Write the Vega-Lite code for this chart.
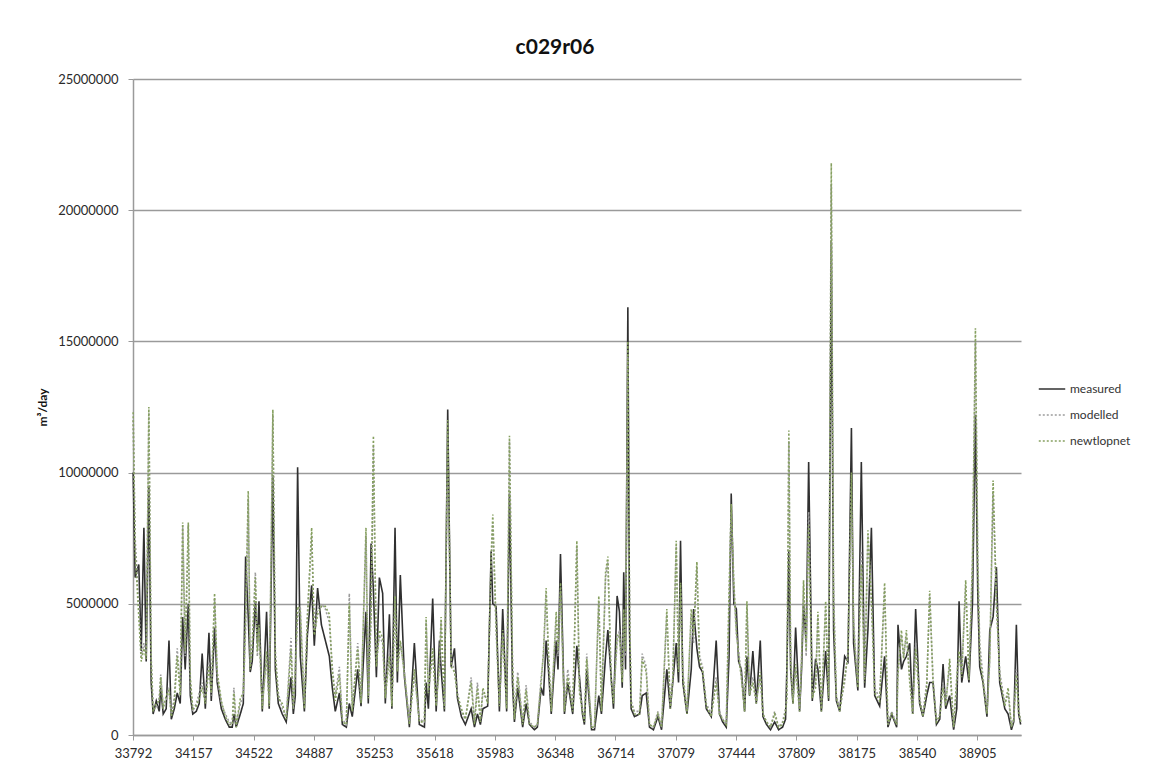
{
  "$schema": "https://vega.github.io/schema/vega-lite/v6.json",
  "width": 888,
  "height": 656,
  "autosize": {"type": "none"},
  "padding": {"left": 133, "top": 79, "right": 150, "bottom": 32},
  "background": "white",
  "title": {"text": "c029r06", "fontSize": 21, "font": "Lato", "fontWeight": "bold", "color": "#111", "anchor": "middle", "dx": -22, "offset": 15},
  "config": {"view": {"stroke": null}, "font": "Lato"},
  "data": {"values": [
    {"d":33793,"measured":10000000,"modelled":12000000,"newtlopnet":12300000},
    {"d":33805,"measured":6000000,"modelled":7500000,"newtlopnet":7000000},
    {"d":33827,"measured":6500000,"modelled":5000000,"newtlopnet":4500000},
    {"d":33842,"measured":3200000,"modelled":3000000,"newtlopnet":2800000},
    {"d":33858,"measured":7900000,"modelled":3500000,"newtlopnet":3300000},
    {"d":33872,"measured":2800000,"modelled":3000000,"newtlopnet":2900000},
    {"d":33888,"measured":9500000,"modelled":12300000,"newtlopnet":12500000},
    {"d":33902,"measured":2000000,"modelled":3000000,"newtlopnet":2800000},
    {"d":33914,"measured":800000,"modelled":1000000,"newtlopnet":900000},
    {"d":33933,"measured":1300000,"modelled":1000000,"newtlopnet":1200000},
    {"d":33951,"measured":900000,"modelled":1400000,"newtlopnet":1300000},
    {"d":33960,"measured":1800000,"modelled":2300000,"newtlopnet":2200000},
    {"d":33975,"measured":800000,"modelled":1100000,"newtlopnet":1000000},
    {"d":33993,"measured":1000000,"modelled":1300000,"newtlopnet":1500000},
    {"d":34010,"measured":3600000,"modelled":1800000,"newtlopnet":1700000},
    {"d":34024,"measured":600000,"modelled":800000,"newtlopnet":700000},
    {"d":34042,"measured":1000000,"modelled":1400000,"newtlopnet":1200000},
    {"d":34060,"measured":1600000,"modelled":3300000,"newtlopnet":3000000},
    {"d":34078,"measured":1200000,"modelled":1600000,"newtlopnet":1500000},
    {"d":34093,"measured":4500000,"modelled":8000000,"newtlopnet":8100000},
    {"d":34108,"measured":2500000,"modelled":3000000,"newtlopnet":3200000},
    {"d":34127,"measured":5000000,"modelled":8000000,"newtlopnet":8100000},
    {"d":34139,"measured":1500000,"modelled":2000000,"newtlopnet":2200000},
    {"d":34154,"measured":800000,"modelled":900000,"newtlopnet":1000000},
    {"d":34175,"measured":900000,"modelled":1200000,"newtlopnet":1100000},
    {"d":34193,"measured":1200000,"modelled":1600000,"newtlopnet":1400000},
    {"d":34211,"measured":3100000,"modelled":2000000,"newtlopnet":1800000},
    {"d":34230,"measured":1000000,"modelled":1300000,"newtlopnet":1200000},
    {"d":34252,"measured":3900000,"modelled":2800000,"newtlopnet":2600000},
    {"d":34266,"measured":1300000,"modelled":1500000,"newtlopnet":1600000},
    {"d":34286,"measured":4100000,"modelled":5200000,"newtlopnet":5400000},
    {"d":34302,"measured":2000000,"modelled":2200000,"newtlopnet":2400000},
    {"d":34327,"measured":1000000,"modelled":1200000,"newtlopnet":1300000},
    {"d":34351,"measured":600000,"modelled":800000,"newtlopnet":700000},
    {"d":34375,"measured":300000,"modelled":500000,"newtlopnet":400000},
    {"d":34393,"measured":300000,"modelled":400000,"newtlopnet":400000},
    {"d":34403,"measured":800000,"modelled":1800000,"newtlopnet":1600000},
    {"d":34417,"measured":300000,"modelled":400000,"newtlopnet":300000},
    {"d":34442,"measured":800000,"modelled":1200000,"newtlopnet":1400000},
    {"d":34460,"measured":1200000,"modelled":1500000,"newtlopnet":1600000},
    {"d":34474,"measured":6800000,"modelled":4000000,"newtlopnet":4500000},
    {"d":34490,"measured":4500000,"modelled":9000000,"newtlopnet":9300000},
    {"d":34502,"measured":2400000,"modelled":2600000,"newtlopnet":2500000},
    {"d":34514,"measured":2800000,"modelled":3500000,"newtlopnet":3300000},
    {"d":34533,"measured":5100000,"modelled":6200000,"newtlopnet":6000000},
    {"d":34545,"measured":3500000,"modelled":3000000,"newtlopnet":3200000},
    {"d":34555,"measured":5100000,"modelled":4000000,"newtlopnet":4200000},
    {"d":34575,"measured":900000,"modelled":1100000,"newtlopnet":1000000},
    {"d":34601,"measured":4700000,"modelled":3000000,"newtlopnet":3200000},
    {"d":34617,"measured":1000000,"modelled":1200000,"newtlopnet":1100000},
    {"d":34639,"measured":9900000,"modelled":12200000,"newtlopnet":12400000},
    {"d":34654,"measured":2500000,"modelled":3200000,"newtlopnet":3000000},
    {"d":34672,"measured":1200000,"modelled":1600000,"newtlopnet":1400000},
    {"d":34696,"measured":800000,"modelled":1000000,"newtlopnet":1200000},
    {"d":34720,"measured":500000,"modelled":700000,"newtlopnet":600000},
    {"d":34749,"measured":2200000,"modelled":3700000,"newtlopnet":3300000},
    {"d":34763,"measured":800000,"modelled":1000000,"newtlopnet":1000000},
    {"d":34775,"measured":1500000,"modelled":2500000,"newtlopnet":2400000},
    {"d":34789,"measured":10200000,"modelled":4500000,"newtlopnet":4900000},
    {"d":34805,"measured":3000000,"modelled":4900000,"newtlopnet":4700000},
    {"d":34830,"measured":900000,"modelled":1200000,"newtlopnet":1000000},
    {"d":34848,"measured":3800000,"modelled":4600000,"newtlopnet":4300000},
    {"d":34874,"measured":5700000,"modelled":7600000,"newtlopnet":7900000},
    {"d":34890,"measured":3400000,"modelled":4000000,"newtlopnet":3800000},
    {"d":34910,"measured":5600000,"modelled":4800000,"newtlopnet":4600000},
    {"d":34933,"measured":4200000,"modelled":5000000,"newtlopnet":4900000},
    {"d":34957,"measured":3600000,"modelled":4800000,"newtlopnet":4900000},
    {"d":34981,"measured":3000000,"modelled":4300000,"newtlopnet":4600000},
    {"d":34999,"measured":1800000,"modelled":2600000,"newtlopnet":2400000},
    {"d":35017,"measured":900000,"modelled":1500000,"newtlopnet":1300000},
    {"d":35042,"measured":1600000,"modelled":2600000,"newtlopnet":2300000},
    {"d":35060,"measured":400000,"modelled":600000,"newtlopnet":500000},
    {"d":35084,"measured":300000,"modelled":400000,"newtlopnet":400000},
    {"d":35102,"measured":1200000,"modelled":5400000,"newtlopnet":5000000},
    {"d":35120,"measured":700000,"modelled":1000000,"newtlopnet":900000},
    {"d":35153,"measured":2500000,"modelled":3500000,"newtlopnet":3300000},
    {"d":35173,"measured":1100000,"modelled":1300000,"newtlopnet":1200000},
    {"d":35203,"measured":4700000,"modelled":7600000,"newtlopnet":7900000},
    {"d":35217,"measured":1200000,"modelled":1500000,"newtlopnet":1400000},
    {"d":35234,"measured":7300000,"modelled":4500000,"newtlopnet":4800000},
    {"d":35248,"measured":5500000,"modelled":11000000,"newtlopnet":11400000},
    {"d":35266,"measured":2200000,"modelled":2800000,"newtlopnet":2600000},
    {"d":35284,"measured":6000000,"modelled":3800000,"newtlopnet":4000000},
    {"d":35304,"measured":5400000,"modelled":3500000,"newtlopnet":3700000},
    {"d":35320,"measured":1200000,"modelled":1500000,"newtlopnet":1400000},
    {"d":35345,"measured":4600000,"modelled":3300000,"newtlopnet":3000000},
    {"d":35360,"measured":1000000,"modelled":1200000,"newtlopnet":1100000},
    {"d":35379,"measured":7900000,"modelled":5000000,"newtlopnet":5300000},
    {"d":35393,"measured":2000000,"modelled":2500000,"newtlopnet":2400000},
    {"d":35411,"measured":6100000,"modelled":3500000,"newtlopnet":3600000},
    {"d":35436,"measured":2200000,"modelled":2400000,"newtlopnet":2300000},
    {"d":35466,"measured":300000,"modelled":500000,"newtlopnet":400000},
    {"d":35496,"measured":3500000,"modelled":2300000,"newtlopnet":2500000},
    {"d":35526,"measured":400000,"modelled":600000,"newtlopnet":500000},
    {"d":35557,"measured":300000,"modelled":500000,"newtlopnet":500000},
    {"d":35567,"measured":2000000,"modelled":4300000,"newtlopnet":4500000},
    {"d":35581,"measured":1000000,"modelled":1800000,"newtlopnet":1600000},
    {"d":35607,"measured":5200000,"modelled":3000000,"newtlopnet":3300000},
    {"d":35628,"measured":900000,"modelled":1200000,"newtlopnet":1100000},
    {"d":35648,"measured":3600000,"modelled":2500000,"newtlopnet":2800000},
    {"d":35658,"measured":2500000,"modelled":4300000,"newtlopnet":4500000},
    {"d":35678,"measured":900000,"modelled":1100000,"newtlopnet":1000000},
    {"d":35698,"measured":12400000,"modelled":11500000,"newtlopnet":12000000},
    {"d":35719,"measured":2600000,"modelled":2800000,"newtlopnet":2600000},
    {"d":35739,"measured":3300000,"modelled":2500000,"newtlopnet":2400000},
    {"d":35757,"measured":1400000,"modelled":1600000,"newtlopnet":1500000},
    {"d":35781,"measured":700000,"modelled":900000,"newtlopnet":1000000},
    {"d":35805,"measured":400000,"modelled":600000,"newtlopnet":600000},
    {"d":35840,"measured":1000000,"modelled":2200000,"newtlopnet":2000000},
    {"d":35860,"measured":300000,"modelled":500000,"newtlopnet":400000},
    {"d":35878,"measured":800000,"modelled":2000000,"newtlopnet":1800000},
    {"d":35896,"measured":400000,"modelled":600000,"newtlopnet":500000},
    {"d":35911,"measured":1000000,"modelled":1600000,"newtlopnet":1800000},
    {"d":35940,"measured":1100000,"modelled":1300000,"newtlopnet":1200000},
    {"d":35961,"measured":7000000,"modelled":6500000,"newtlopnet":6800000},
    {"d":35971,"measured":5000000,"modelled":8100000,"newtlopnet":8400000},
    {"d":35991,"measured":4900000,"modelled":4000000,"newtlopnet":4200000},
    {"d":36011,"measured":900000,"modelled":1200000,"newtlopnet":1100000},
    {"d":36031,"measured":4800000,"modelled":3800000,"newtlopnet":4000000},
    {"d":36055,"measured":900000,"modelled":1100000,"newtlopnet":1000000},
    {"d":36072,"measured":9200000,"modelled":11200000,"newtlopnet":11400000},
    {"d":36090,"measured":2000000,"modelled":3000000,"newtlopnet":2700000},
    {"d":36102,"measured":500000,"modelled":700000,"newtlopnet":600000},
    {"d":36122,"measured":1800000,"modelled":2400000,"newtlopnet":2200000},
    {"d":36152,"measured":300000,"modelled":500000,"newtlopnet":400000},
    {"d":36173,"measured":1200000,"modelled":1900000,"newtlopnet":1700000},
    {"d":36193,"measured":400000,"modelled":500000,"newtlopnet":400000},
    {"d":36223,"measured":200000,"modelled":300000,"newtlopnet":300000},
    {"d":36241,"measured":300000,"modelled":400000,"newtlopnet":400000},
    {"d":36264,"measured":1800000,"modelled":2200000,"newtlopnet":2000000},
    {"d":36278,"measured":1500000,"modelled":3000000,"newtlopnet":3200000},
    {"d":36294,"measured":3600000,"modelled":5400000,"newtlopnet":5600000},
    {"d":36308,"measured":2500000,"modelled":3000000,"newtlopnet":3200000},
    {"d":36325,"measured":800000,"modelled":1000000,"newtlopnet":900000},
    {"d":36355,"measured":3600000,"modelled":4500000,"newtlopnet":4700000},
    {"d":36366,"measured":2500000,"modelled":3000000,"newtlopnet":3200000},
    {"d":36381,"measured":6900000,"modelled":5500000,"newtlopnet":5800000},
    {"d":36405,"measured":800000,"modelled":1000000,"newtlopnet":900000},
    {"d":36425,"measured":2000000,"modelled":2500000,"newtlopnet":2200000},
    {"d":36455,"measured":800000,"modelled":1000000,"newtlopnet":900000},
    {"d":36480,"measured":3400000,"modelled":7200000,"newtlopnet":7400000},
    {"d":36496,"measured":2200000,"modelled":1800000,"newtlopnet":1600000},
    {"d":36514,"measured":800000,"modelled":1000000,"newtlopnet":900000},
    {"d":36526,"measured":400000,"modelled":600000,"newtlopnet":500000},
    {"d":36540,"measured":2500000,"modelled":3100000,"newtlopnet":2900000},
    {"d":36569,"measured":200000,"modelled":300000,"newtlopnet":300000},
    {"d":36587,"measured":200000,"modelled":300000,"newtlopnet":300000},
    {"d":36613,"measured":1500000,"modelled":5100000,"newtlopnet":5300000},
    {"d":36629,"measured":800000,"modelled":1000000,"newtlopnet":900000},
    {"d":36654,"measured":3000000,"modelled":6000000,"newtlopnet":6200000},
    {"d":36668,"measured":4000000,"modelled":6600000,"newtlopnet":6800000},
    {"d":36688,"measured":2200000,"modelled":2000000,"newtlopnet":2100000},
    {"d":36702,"measured":1000000,"modelled":1400000,"newtlopnet":1200000},
    {"d":36724,"measured":5300000,"modelled":3500000,"newtlopnet":3800000},
    {"d":36738,"measured":4700000,"modelled":4000000,"newtlopnet":3800000},
    {"d":36755,"measured":1800000,"modelled":2200000,"newtlopnet":2000000},
    {"d":36764,"measured":6200000,"modelled":4500000,"newtlopnet":4800000},
    {"d":36775,"measured":2500000,"modelled":3000000,"newtlopnet":3200000},
    {"d":36789,"measured":16300000,"modelled":14500000,"newtlopnet":15000000},
    {"d":36799,"measured":4000000,"modelled":5000000,"newtlopnet":4800000},
    {"d":36809,"measured":1000000,"modelled":1300000,"newtlopnet":1200000},
    {"d":36829,"measured":700000,"modelled":900000,"newtlopnet":800000},
    {"d":36860,"measured":800000,"modelled":900000,"newtlopnet":800000},
    {"d":36876,"measured":1500000,"modelled":3100000,"newtlopnet":2900000},
    {"d":36900,"measured":1600000,"modelled":2600000,"newtlopnet":2400000},
    {"d":36920,"measured":300000,"modelled":400000,"newtlopnet":400000},
    {"d":36944,"measured":200000,"modelled":300000,"newtlopnet":300000},
    {"d":36971,"measured":700000,"modelled":900000,"newtlopnet":800000},
    {"d":36993,"measured":200000,"modelled":300000,"newtlopnet":300000},
    {"d":37025,"measured":2500000,"modelled":4600000,"newtlopnet":4800000},
    {"d":37046,"measured":1000000,"modelled":1100000,"newtlopnet":1000000},
    {"d":37061,"measured":2000000,"modelled":2200000,"newtlopnet":2100000},
    {"d":37082,"measured":3500000,"modelled":7200000,"newtlopnet":7400000},
    {"d":37096,"measured":2000000,"modelled":2500000,"newtlopnet":2400000},
    {"d":37108,"measured":7400000,"modelled":5500000,"newtlopnet":5800000},
    {"d":37122,"measured":2000000,"modelled":2400000,"newtlopnet":2200000},
    {"d":37147,"measured":800000,"modelled":900000,"newtlopnet":800000},
    {"d":37173,"measured":2500000,"modelled":4600000,"newtlopnet":4800000},
    {"d":37187,"measured":4800000,"modelled":3500000,"newtlopnet":3800000},
    {"d":37207,"measured":3300000,"modelled":6400000,"newtlopnet":6600000},
    {"d":37223,"measured":2600000,"modelled":3000000,"newtlopnet":2800000},
    {"d":37241,"measured":2400000,"modelled":2600000,"newtlopnet":2500000},
    {"d":37264,"measured":1000000,"modelled":1200000,"newtlopnet":1100000},
    {"d":37294,"measured":700000,"modelled":800000,"newtlopnet":700000},
    {"d":37324,"measured":3600000,"modelled":2200000,"newtlopnet":2000000},
    {"d":37344,"measured":800000,"modelled":900000,"newtlopnet":800000},
    {"d":37363,"measured":500000,"modelled":600000,"newtlopnet":600000},
    {"d":37385,"measured":300000,"modelled":400000,"newtlopnet":400000},
    {"d":37402,"measured":3000000,"modelled":5000000,"newtlopnet":5500000},
    {"d":37415,"measured":9200000,"modelled":8500000,"newtlopnet":8800000},
    {"d":37431,"measured":5000000,"modelled":5600000,"newtlopnet":5800000},
    {"d":37446,"measured":4800000,"modelled":3800000,"newtlopnet":4000000},
    {"d":37460,"measured":2800000,"modelled":3200000,"newtlopnet":3000000},
    {"d":37476,"measured":2500000,"modelled":2300000,"newtlopnet":2200000},
    {"d":37496,"measured":900000,"modelled":1000000,"newtlopnet":900000},
    {"d":37510,"measured":3000000,"modelled":4900000,"newtlopnet":5100000},
    {"d":37526,"measured":1500000,"modelled":1600000,"newtlopnet":1500000},
    {"d":37546,"measured":3200000,"modelled":2200000,"newtlopnet":2000000},
    {"d":37567,"measured":1200000,"modelled":1300000,"newtlopnet":1200000},
    {"d":37591,"measured":3600000,"modelled":2200000,"newtlopnet":2400000},
    {"d":37607,"measured":700000,"modelled":800000,"newtlopnet":800000},
    {"d":37629,"measured":400000,"modelled":500000,"newtlopnet":500000},
    {"d":37653,"measured":200000,"modelled":300000,"newtlopnet":300000},
    {"d":37678,"measured":500000,"modelled":900000,"newtlopnet":800000},
    {"d":37702,"measured":200000,"modelled":300000,"newtlopnet":300000},
    {"d":37726,"measured":300000,"modelled":500000,"newtlopnet":400000},
    {"d":37744,"measured":600000,"modelled":1000000,"newtlopnet":900000},
    {"d":37752,"measured":2500000,"modelled":1500000,"newtlopnet":1400000},
    {"d":37764,"measured":7000000,"modelled":11200000,"newtlopnet":11600000},
    {"d":37775,"measured":2500000,"modelled":3000000,"newtlopnet":2800000},
    {"d":37789,"measured":1200000,"modelled":1300000,"newtlopnet":1200000},
    {"d":37805,"measured":4100000,"modelled":2500000,"newtlopnet":2700000},
    {"d":37829,"measured":900000,"modelled":1000000,"newtlopnet":900000},
    {"d":37841,"measured":2500000,"modelled":3000000,"newtlopnet":2800000},
    {"d":37853,"measured":5000000,"modelled":5700000,"newtlopnet":5900000},
    {"d":37869,"measured":3500000,"modelled":3000000,"newtlopnet":3200000},
    {"d":37884,"measured":10400000,"modelled":8500000,"newtlopnet":8000000},
    {"d":37906,"measured":1300000,"modelled":1500000,"newtlopnet":1400000},
    {"d":37926,"measured":2900000,"modelled":2000000,"newtlopnet":1800000},
    {"d":37940,"measured":2500000,"modelled":4500000,"newtlopnet":4700000},
    {"d":37961,"measured":900000,"modelled":1000000,"newtlopnet":900000},
    {"d":37987,"measured":3200000,"modelled":4900000,"newtlopnet":5100000},
    {"d":38005,"measured":1300000,"modelled":1500000,"newtlopnet":1400000},
    {"d":38021,"measured":18800000,"modelled":21000000,"newtlopnet":21800000},
    {"d":38035,"measured":4000000,"modelled":5500000,"newtlopnet":5000000},
    {"d":38052,"measured":1300000,"modelled":1500000,"newtlopnet":1400000},
    {"d":38072,"measured":900000,"modelled":1000000,"newtlopnet":900000},
    {"d":38102,"measured":3000000,"modelled":2000000,"newtlopnet":2200000},
    {"d":38122,"measured":2800000,"modelled":3200000,"newtlopnet":3000000},
    {"d":38143,"measured":11700000,"modelled":9500000,"newtlopnet":10000000},
    {"d":38156,"measured":3500000,"modelled":4500000,"newtlopnet":4200000},
    {"d":38169,"measured":2600000,"modelled":3000000,"newtlopnet":2800000},
    {"d":38182,"measured":1700000,"modelled":2000000,"newtlopnet":1800000},
    {"d":38203,"measured":10400000,"modelled":7000000,"newtlopnet":6500000},
    {"d":38223,"measured":1800000,"modelled":2200000,"newtlopnet":2000000},
    {"d":38243,"measured":4000000,"modelled":7600000,"newtlopnet":7800000},
    {"d":38264,"measured":7900000,"modelled":5000000,"newtlopnet":5200000},
    {"d":38284,"measured":1500000,"modelled":1800000,"newtlopnet":1600000},
    {"d":38314,"measured":1100000,"modelled":1400000,"newtlopnet":1300000},
    {"d":38344,"measured":3000000,"modelled":5600000,"newtlopnet":5800000},
    {"d":38364,"measured":300000,"modelled":400000,"newtlopnet":400000},
    {"d":38387,"measured":800000,"modelled":900000,"newtlopnet":800000},
    {"d":38417,"measured":300000,"modelled":400000,"newtlopnet":400000},
    {"d":38425,"measured":4200000,"modelled":2500000,"newtlopnet":2300000},
    {"d":38446,"measured":2500000,"modelled":3800000,"newtlopnet":4000000},
    {"d":38459,"measured":2800000,"modelled":3000000,"newtlopnet":2900000},
    {"d":38476,"measured":3000000,"modelled":3800000,"newtlopnet":4000000},
    {"d":38496,"measured":3500000,"modelled":2200000,"newtlopnet":2000000},
    {"d":38514,"measured":800000,"modelled":900000,"newtlopnet":800000},
    {"d":38532,"measured":4800000,"modelled":3500000,"newtlopnet":3300000},
    {"d":38556,"measured":1200000,"modelled":1400000,"newtlopnet":1300000},
    {"d":38576,"measured":700000,"modelled":800000,"newtlopnet":700000},
    {"d":38599,"measured":1500000,"modelled":2000000,"newtlopnet":1800000},
    {"d":38617,"measured":2000000,"modelled":5300000,"newtlopnet":5500000},
    {"d":38637,"measured":2000000,"modelled":2200000,"newtlopnet":2000000},
    {"d":38658,"measured":400000,"modelled":500000,"newtlopnet":500000},
    {"d":38678,"measured":600000,"modelled":800000,"newtlopnet":700000},
    {"d":38698,"measured":2700000,"modelled":2000000,"newtlopnet":1800000},
    {"d":38714,"measured":1000000,"modelled":1200000,"newtlopnet":1100000},
    {"d":38738,"measured":1500000,"modelled":2700000,"newtlopnet":2900000},
    {"d":38762,"measured":200000,"modelled":300000,"newtlopnet":300000},
    {"d":38781,"measured":1000000,"modelled":2000000,"newtlopnet":2200000},
    {"d":38795,"measured":5100000,"modelled":3000000,"newtlopnet":3200000},
    {"d":38811,"measured":2000000,"modelled":2400000,"newtlopnet":2200000},
    {"d":38835,"measured":3000000,"modelled":5700000,"newtlopnet":5900000},
    {"d":38855,"measured":2000000,"modelled":2300000,"newtlopnet":2100000},
    {"d":38876,"measured":5000000,"modelled":6500000,"newtlopnet":6700000},
    {"d":38894,"measured":12200000,"modelled":15000000,"newtlopnet":15500000},
    {"d":38908,"measured":5500000,"modelled":7000000,"newtlopnet":6500000},
    {"d":38920,"measured":2600000,"modelled":3500000,"newtlopnet":3000000},
    {"d":38940,"measured":2000000,"modelled":2200000,"newtlopnet":2000000},
    {"d":38964,"measured":700000,"modelled":900000,"newtlopnet":800000},
    {"d":38981,"measured":4000000,"modelled":2800000,"newtlopnet":3000000},
    {"d":39001,"measured":4500000,"modelled":9300000,"newtlopnet":9700000},
    {"d":39021,"measured":6400000,"modelled":5000000,"newtlopnet":5200000},
    {"d":39041,"measured":2000000,"modelled":2400000,"newtlopnet":2200000},
    {"d":39072,"measured":1000000,"modelled":1200000,"newtlopnet":1100000},
    {"d":39092,"measured":800000,"modelled":1600000,"newtlopnet":1800000},
    {"d":39112,"measured":200000,"modelled":300000,"newtlopnet":300000},
    {"d":39126,"measured":500000,"modelled":600000,"newtlopnet":600000},
    {"d":39142,"measured":4200000,"modelled":2500000,"newtlopnet":2300000},
    {"d":39156,"measured":800000,"modelled":1000000,"newtlopnet":900000},
    {"d":39168,"measured":400000,"modelled":500000,"newtlopnet":500000}
  ]},
  "transform": [{"fold": ["measured", "modelled", "newtlopnet"], "as": ["series", "value"]}],
  "mark": {"type": "line", "strokeWidth": 1.6, "interpolate": "linear"},
  "encoding": {
    "x": {
      "field": "d", "type": "quantitative",
      "scale": {"domain": [33792, 39170], "nice": false, "zero": false},
      "axis": {
        "title": null, "format": "d",
        "values": [33792, 34157, 34522, 34887, 35253, 35618, 35983, 36348, 36714, 37079, 37444, 37809, 38175, 38540, 38905],
        "grid": false, "domainColor": "#9a9a9a", "domainWidth": 1.5, "tickColor": "#9a9a9a", "tickSize": 5,
        "labelFontSize": 13, "labelColor": "#2a2a2a", "labelPadding": 7, "labelFlush": false, "labelOverlap": false
      }
    },
    "y": {
      "field": "value", "type": "quantitative",
      "scale": {"domain": [0, 25000000], "nice": false},
      "axis": {
        "title": "m³/day", "titleFontSize": 12, "titleFontWeight": "bold", "titleColor": "#111", "titlePadding": 8,
        "format": "d", "values": [0, 5000000, 10000000, 15000000, 20000000, 25000000],
        "grid": true, "gridColor": "#9a9a9a", "gridWidth": 1.5,
        "domainColor": "#9a9a9a", "domainWidth": 1.5, "tickColor": "#9a9a9a", "tickSize": 5,
        "labelFontSize": 13, "labelColor": "#2a2a2a", "labelPadding": 10
      }
    },
    "color": {
      "field": "series", "type": "nominal",
      "scale": {"domain": ["measured", "modelled", "newtlopnet"], "range": ["#303030", "#9c9c9c", "#86a060"]},
      "legend": {
        "title": null, "orient": "none", "legendX": 905, "legendY": 296,
        "symbolType": "stroke", "symbolSize": 700, "symbolStrokeWidth": 1.5,
        "labelFontSize": 12, "labelColor": "#333", "rowPadding": 6
      }
    },
    "strokeDash": {
      "field": "series", "type": "nominal",
      "scale": {"domain": ["measured", "modelled", "newtlopnet"], "range": [[1, 0], [2, 2], [2, 2]]},
      "legend": null
    }
  }
}
